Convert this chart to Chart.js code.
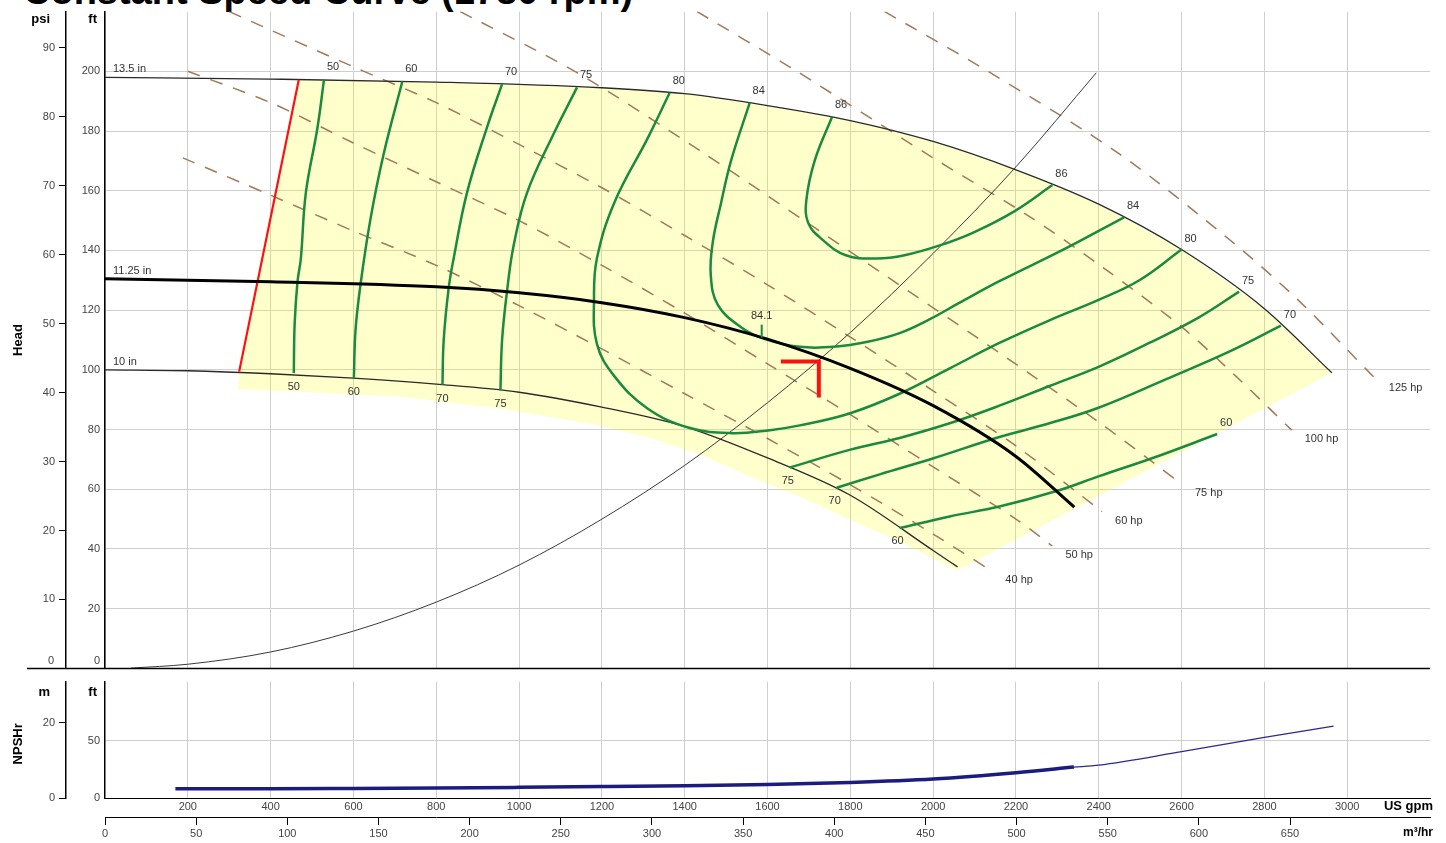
<!DOCTYPE html>
<html>
<head>
<meta charset="utf-8">
<script src="https://cdn.jsdelivr.net/npm/chart.js@4.4.0/dist/chart.umd.min.js"></script>
<style>
  body { margin: 0; background: #fff; width: 1446px; height: 843px; overflow: hidden; position: relative; }
  #title { position: absolute; left: 23px; top: -28px; font: bold 38px/38px "Liberation Sans", Arial, sans-serif; color: #000; white-space: nowrap; }
  #head { position: absolute; left: 0; top: 0; }
  #npsh { position: absolute; left: 0; top: 670px; }
</style>
</head>
<body>
<div id="title">Constant Speed Curve (1780 rpm)</div>
<canvas id="head" width="1446" height="680"></canvas>
<canvas id="npsh" width="1446" height="173"></canvas>
<script>
// axis ranges and unit conversions
var flowMax = 3200;      // US gpm
var headMax = 220;       // ft
var npshMax = 101.7;     // ft
var ftPerPsi = 2.31;
var ftPerM = 3.281;
var gpmPerM3h = 4.403;

// impeller curves [gpm, ft]
var dia135 = [[0,198],[400,197.4],[800,196.4],[1200,194.5],[1400,192.5],[1600,188.5],[1800,183.5],[2000,176.5],[2200,167],[2400,155.5],[2600,140.3],[2800,120.5],[2963,99]];
var dia1125 = [[0,130.5],[400,129.5],[800,127.8],[1000,125.8],[1200,122.5],[1400,117.5],[1600,110.3],[1800,100.5],[2000,88],[2200,71],[2341,54]];
var dia10 = [[0,100],[200,99.7],[400,98.7],[600,97.2],[800,95.2],[1000,92.5],[1200,87.5],[1400,81],[1600,70.5],[1800,58],[2000,39.5],[2059,34]];
var diaNames = ['13.5 in', '11.25 in', '10 in'];

// minimum flow line and lower edge of the shaded range
var minFlow = [[324,99.4],[468,197.2]];
var rangeLower = [[2059,32.8],[1919,42.4],[1798,49.9],[1678,57.5],[1557,64.4],[1437,71.6],[1316,77.2],[1196,81.4],[955,87],[714,91],[321,93.6]];

// system curve
var systemCurve = [[63,0.1],[200,1.4],[400,5.5],[600,12.5],[800,22.2],[1000,34.6],[1200,50],[1400,68],[1600,89],[1800,112.5],[2000,139],[2200,168],[2394,199.5]];

// efficiency contours (%)
var eff50 = [[529,197.3],[513,181],[485,159.2],[473,137.3],[465,129.6],[458,115.4],[456,98.9]];
var eff60 = [[718,196.6],[673,172.3],[641,150.4],[617,128.5],[605,113.2],[601,97.2]];
var eff70 = [[959,195.7],[922,181],[874,159.2],[842,137.3],[830,127.4],[818,110],[815,95]];
var eff75L = [[1140,194.6],[1083,178.9],[1019,159.2],[987,141.7],[971,126.4],[959,110],[955,93.1]];
var eff80 = [[1364,192.9],[1311,177.7],[1230,156],[1188,137.3],[1181,124.1],[1188,108.7],[1230,97.9],[1311,87],[1413,80.5],[1514,78.8],[1606,79.8],[1678,81.4],[1798,85.4],[1919,92],[2040,100.5],[2160,109],[2281,116.6],[2401,123.5],[2498,130],[2600,140.3]];
var eff84 = [[1557,189.4],[1512,170.1],[1488,156],[1468,142.9],[1463,131.7],[1480,121.8],[1536,114.3],[1594,110.3],[1678,107.7],[1760,107.7],[1842,109.4],[1919,112.3],[1991,116.9],[2064,122.5],[2160,129.7],[2319,140.6],[2461,151.1]];
var eff86 = [[1756,184.8],[1714,170.1],[1694,157],[1698,149.3],[1731,143.8],[1789,138.4],[1864,137.3],[1931,138.4],[2014,141.6],[2097,146],[2196,153.1],[2288,161.9]];
var eff75R = [[1654,67.3],[1798,73.2],[1919,77.2],[2040,82.1],[2160,88],[2281,94.6],[2401,101.1],[2522,109],[2642,117.6],[2739,126.2]];
var eff70R = [[1767,60.5],[1871,65],[1999,70.3],[2160,77.5],[2281,82.1],[2401,87.4],[2563,96.9],[2715,106.1],[2840,114.8]];
var eff60R = [[1919,47],[2040,50.9],[2160,54.2],[2298,59.4],[2401,64.4],[2539,70.9],[2686,78.5]];

// power lines (hp)
var hp40 = [[188,171],[400,158.5],[600,146.5],[800,135],[1000,121.5],[1200,107],[1400,92],[1600,77],[1800,61.5],[2000,45],[2143,32.5]];
var hp50 = [[200,200],[400,189.5],[600,176],[800,163],[1000,150],[1200,135],[1400,119],[1600,102],[1800,85],[2000,67.5],[2200,50],[2288,41]];
var hp60 = [[300,220],[600,201.5],[800,189.5],[1000,175.5],[1200,161],[1400,145],[1600,128.5],[1800,111],[2000,93],[2200,74.5],[2408,52.5]];
var hp75 = [[858,220],[1138,199.7],[1437,173.4],[1678,151],[1919,128.4],[2160,105.7],[2401,82.4],[2601,61.7]];
var hp100 = [[1430,220],[1665,200.5],[2000,171],[2232,151.4],[2413,134],[2601,114.3],[2731,97.9],[2866,79.8]];
var hp125 = [[1883,220],[2136,199.7],[2449,172.4],[2722,142.9],[2883,123.2],[3069,96.9]];

// duty point and best efficiency point
var dutyPoint = [1724, 102.8];
var bepPoint = [1586, 110.8];
var bepText = '84.1';

// NPSHr [gpm, ft]
var npshr = [[170,8],[400,8],[600,8.3],[800,8.7],[1000,9.3],[1200,10],[1400,10.8],[1600,11.8],[1800,13.5],[2000,16.5],[2200,22],[2340,27]];
var npshrExt = [[2340,27],[2400,28.7],[2600,40.5],[2800,53],[2967,62.8]];
var npshFtTicks = [0, 50];
var npshMTicks = [0, 20];

var gridColor = '#cfcfcf';
var tickColor = '#444';
var tickFont = { family: 'Liberation Sans', size: 11 };
var green = '#1b8a3e';
var brown = '#a07a5a';
var fontSmall = '11px "Liberation Sans", Arial, sans-serif';
var fontBold = 'bold 13px "Liberation Sans", Arial, sans-serif';

function xy(arr) {
  return arr.map(function (p) { return { x: p[0], y: p[1] }; });
}

function lineSet(arr, color, width, extra) {
  var ds = { data: xy(arr), borderColor: color, borderWidth: width, pointRadius: 0, fill: false, tension: 0.4 };
  for (var k in extra) ds[k] = extra[k];
  return ds;
}

// shaded operating range: top curve from the min flow line, down the right side, back along the lower edge
var rangeShape = [minFlow[1]]
  .concat(dia135.filter(function (p) { return p[0] > minFlow[1][0]; }))
  .concat(rangeLower)
  .concat([minFlow[0]]);

var effCurves = [eff50, eff60, eff70, eff75L, eff80, eff84, eff86, eff75R, eff70R, eff60R];
var hpCurves = [hp40, hp50, hp60, hp75, hp100, hp125];
var hpNames = ['40 hp', '50 hp', '60 hp', '75 hp', '100 hp', '125 hp'];

var headSets = [];
headSets.push(lineSet(rangeShape, 'rgba(0,0,0,0)', 0, { fill: 'shape', backgroundColor: 'rgba(255,255,0,0.2)', tension: 0, order: 20 }));
hpCurves.forEach(function (c) {
  headSets.push(lineSet(c, brown, 1.5, { borderDash: [13, 11], tension: 0.3, order: 10 }));
});
headSets.push(lineSet(systemCurve, '#3a3a3a', 1, { cubicInterpolationMode: 'monotone', order: 8 }));
headSets.push(lineSet(dia135, '#2a2a2a', 1.3, { cubicInterpolationMode: 'monotone', order: 5 }));
headSets.push(lineSet(dia10, '#2a2a2a', 1.3, { cubicInterpolationMode: 'monotone', order: 5 }));
headSets.push(lineSet(minFlow, '#ff1010', 2.2, { tension: 0, order: 4 }));
effCurves.forEach(function (c) {
  headSets.push(lineSet(c, green, 2.5, { order: 3 }));
});
headSets.push(lineSet(dia1125, '#000', 3, { cubicInterpolationMode: 'monotone', order: 1 }));

function text(ctx, s, x, y, align, font, color) {
  ctx.font = font || fontSmall;
  ctx.fillStyle = color || '#333';
  ctx.textAlign = align || 'center';
  ctx.textBaseline = 'middle';
  ctx.fillText(s, x, y);
}

function vtext(ctx, s, x, y) {
  ctx.save();
  ctx.translate(x, y);
  ctx.rotate(-Math.PI / 2);
  text(ctx, s, 0, 0, 'center', 'bold 13px "Liberation Sans", Arial, sans-serif', '#000');
  ctx.restore();
}

var effLabelSpec = [
  [eff50, '50', 'top', 'below'], [eff60, '60', 'top', 'below'], [eff70, '70', 'top', 'below'], [eff75L, '75', 'top', 'below'],
  [eff80, '80', 'top', 'right'], [eff84, '84', 'top', 'right'], [eff86, '86', 'top', 'right'],
  [eff75R, '75', 'under', 'right'], [eff70R, '70', 'under', 'right'], [eff60R, '60', 'under', 'right']
];
var labelShift = { top: [9, -12], below: [0, 14], right: [9, -11], under: [-2, 13] };

var headDecor = {
  id: 'headDecor',
  afterDatasetsDraw: function (chart) {
    var ctx = chart.ctx, xs = chart.scales.x, ys = chart.scales.y, area = chart.chartArea;
    var P = function (p) { return [xs.getPixelForValue(p[0]), ys.getPixelForValue(p[1])]; };
    ctx.save();

    // impeller labels
    [dia135, dia1125, dia10].forEach(function (c, i) {
      var p = P(c[0]);
      text(ctx, diaNames[i], p[0] + 8, p[1] - 8, 'left');
    });

    // efficiency labels
    effLabelSpec.forEach(function (s) {
      var a = P(s[0][0]), b = P(s[0][s[0].length - 1]);
      var o1 = labelShift[s[2]], o2 = labelShift[s[3]];
      text(ctx, s[1], a[0] + o1[0], a[1] + o1[1]);
      text(ctx, s[1], b[0] + o2[0], b[1] + o2[1]);
    });

    // power labels
    hpCurves.forEach(function (c, i) {
      var p = P(c[c.length - 1]);
      text(ctx, hpNames[i], p[0] + 13, p[1] + 9, 'left');
    });

    // best efficiency point
    var b = P(bepPoint);
    ctx.strokeStyle = green; ctx.lineWidth = 2;
    ctx.beginPath(); ctx.moveTo(b[0], b[1]); ctx.lineTo(b[0], b[1] - 13); ctx.stroke();
    text(ctx, bepText, b[0], b[1] - 22);

    // duty point marker
    var d = P(dutyPoint);
    ctx.strokeStyle = '#ff1010'; ctx.lineWidth = 4; ctx.lineCap = 'butt';
    ctx.beginPath(); ctx.moveTo(d[0] - 38, d[1]); ctx.lineTo(d[0] + 2, d[1]); ctx.moveTo(d[0], d[1]); ctx.lineTo(d[0], d[1] + 36); ctx.stroke();

    // separator between the head and NPSH panels
    var y0 = ys.getPixelForValue(0);
    ctx.strokeStyle = '#000'; ctx.lineWidth = 1.5;
    ctx.beginPath(); ctx.moveTo(27, y0); ctx.lineTo(area.right, y0); ctx.stroke();

    // zero labels sit above the separator
    text(ctx, '0', chart.scales.psi.right - 12, y0 - 7, 'right', fontSmall, tickColor);
    text(ctx, '0', ys.right - 5, y0 - 7, 'right', fontSmall, tickColor);

    // units and axis title
    text(ctx, 'psi', 50, 19, 'right', fontBold, '#000');
    text(ctx, 'ft', 97, 19, 'right', fontBold, '#000');
    vtext(ctx, 'Head', 18, (area.top + area.bottom) / 2);
    ctx.restore();
  }
};

new Chart(document.getElementById('head'), {
  type: 'line',
  data: { datasets: headSets },
  options: {
    responsive: false,
    animation: false,
    events: [],
    layout: { padding: { left: 20, right: 16, top: 8, bottom: 2 } },
    plugins: { legend: { display: false }, tooltip: { enabled: false } },
    elements: { point: { radius: 0 } },
    scales: {
      x: {
        type: 'linear', min: 0, max: flowMax,
        ticks: { display: false, stepSize: 200 },
        border: { display: false },
        grid: { drawTicks: false, color: function (c) { return c.tick && c.tick.value >= flowMax ? 'rgba(0,0,0,0)' : gridColor; } },
        afterFit: function (s) { s.height = 0; }
      },
      y: {
        type: 'linear', position: 'left', min: 0, max: headMax, weight: 0,
        ticks: { stepSize: 20, padding: 5, color: tickColor, font: tickFont,
          callback: function (v) { return (v === 0 || v === headMax) ? null : v; } },
        border: { display: true, color: '#000', width: 1.5 },
        grid: { drawTicks: false, color: gridColor },
        afterFit: function (s) { s.width = 39; }
      },
      psi: {
        type: 'linear', position: 'left', min: 0, max: headMax / ftPerPsi, weight: 1,
        ticks: { stepSize: 10, includeBounds: false, padding: 4, color: tickColor, font: tickFont,
          callback: function (v) { return v === 0 ? null : v; } },
        border: { display: true, color: '#000', width: 1.5 },
        grid: { drawOnChartArea: false, tickLength: 7, tickColor: '#000' },
        afterFit: function (s) { s.width = 46; }
      }
    }
  },
  plugins: [headDecor]
});

var npshDecor = {
  id: 'npshDecor',
  afterDatasetsDraw: function (chart) {
    var ctx = chart.ctx, area = chart.chartArea;
    ctx.save();
    text(ctx, 'm', 50, area.top + 11, 'right', fontBold, '#000');
    text(ctx, 'ft', 97, area.top + 11, 'right', fontBold, '#000');
    vtext(ctx, 'NPSHr', 18, (area.top + area.bottom) / 2 + 4);
    text(ctx, 'US gpm', 1433, area.bottom + 8, 'right', fontBold, '#000');
    text(ctx, 'm\u00b3/hr', 1433, area.bottom + 35, 'right', 'bold 12px "Liberation Sans", Arial, sans-serif', '#000');
    ctx.restore();
  }
};

new Chart(document.getElementById('npsh'), {
  type: 'line',
  data: {
    datasets: [
      lineSet(npshr, '#1c1c80', 3.5, { cubicInterpolationMode: 'monotone', yAxisID: 'y' }),
      lineSet(npshrExt, '#2a2a90', 1.3, { cubicInterpolationMode: 'monotone', yAxisID: 'y' })
    ]
  },
  options: {
    responsive: false,
    animation: false,
    events: [],
    layout: { padding: { left: 20, right: 16, top: 8, bottom: 0 } },
    plugins: { legend: { display: false }, tooltip: { enabled: false } },
    elements: { point: { radius: 0 } },
    scales: {
      x: {
        type: 'linear', position: 'bottom', min: 0, max: flowMax, weight: 0,
        ticks: { stepSize: 200, padding: 2, color: tickColor, font: tickFont, maxRotation: 0,
          callback: function (v) { return (v === 0 || v >= flowMax) ? null : v; } },
        border: { display: true, color: '#000', width: 1 },
        grid: { drawTicks: false, color: gridColor },
        afterFit: function (s) { s.height = 19; }
      },
      x2: {
        type: 'linear', position: 'bottom', min: 0, max: flowMax / gpmPerM3h, weight: 1,
        ticks: { stepSize: 50, includeBounds: false, padding: 2, color: tickColor, font: tickFont, maxRotation: 0,
          callback: function (v) { return v > 650 ? null : v; } },
        border: { display: true, color: '#000', width: 1 },
        grid: { drawOnChartArea: false, tickLength: 8, tickColor: '#000' },
        afterFit: function (s) { s.height = 26; }
      },
      y: {
        type: 'linear', position: 'left', min: 0, max: npshMax, weight: 0,
        afterBuildTicks: function (s) { s.ticks = npshFtTicks.map(function (v) { return { value: v }; }); },
        ticks: { padding: 5, color: tickColor, font: tickFont },
        border: { display: true, color: '#000', width: 1.5 },
        grid: { drawTicks: false, color: gridColor },
        afterFit: function (s) { s.width = 39; }
      },
      m: {
        type: 'linear', position: 'left', min: 0, max: npshMax / ftPerM, weight: 1,
        afterBuildTicks: function (s) { s.ticks = npshMTicks.map(function (v) { return { value: v }; }); },
        ticks: { padding: 4, color: tickColor, font: tickFont },
        border: { display: true, color: '#000', width: 1.5 },
        grid: { drawOnChartArea: false, tickLength: 7, tickColor: '#000' },
        afterFit: function (s) { s.width = 46; }
      }
    }
  },
  plugins: [npshDecor]
});
</script>
</body>
</html>
